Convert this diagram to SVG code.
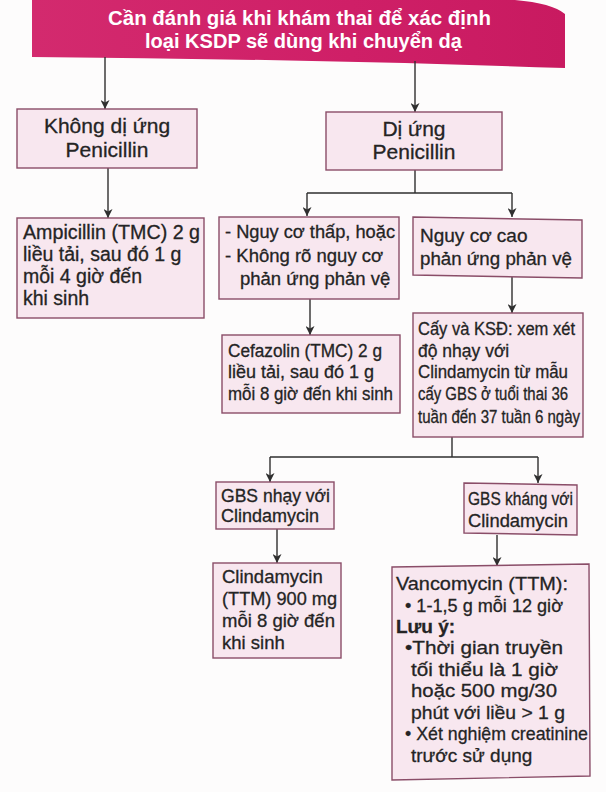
<svg xmlns="http://www.w3.org/2000/svg" width="606" height="792" viewBox="0 0 606 792">
<style>
.bg{fill:#fdfcfc}
.box{fill:#f8e7ef;stroke:#8a4d68;stroke-width:1.4}
.t{font-family:"Liberation Sans",Arial,sans-serif;fill:#242424;stroke:#242424;stroke-width:0.3}
.h{font-family:"Liberation Sans",Arial,sans-serif;fill:#ffffff;font-weight:bold;font-size:20.5px}
.c{stroke:#2f2f2f;stroke-width:1.4;fill:none}
.a{marker-end:url(#arr)}
</style>
<defs>
<marker id="arr" markerUnits="userSpaceOnUse" markerWidth="9" markerHeight="9" refX="4.5" refY="9" orient="0" viewBox="0 0 9 9">
<path d="M0,0 L4.5,2.5 L9,0 L4.5,9 Z" fill="#2f2f2f"/>
</marker>
<linearGradient id="ban" x1="0" y1="0" x2="1" y2="0">
<stop offset="0" stop-color="#d32a6e"/>
<stop offset="0.6" stop-color="#cf1f67"/>
<stop offset="1" stop-color="#c81a60"/>
</linearGradient>
</defs>
<rect class="bg" x="0" y="0" width="606" height="792"/>

<g id="banner">
<path d="M32,0 H515 Q552,3 565,14 L565,68 Q300,59 32,57 Z" fill="url(#ban)"/>
<text class="h" x="299.5" y="25" text-anchor="middle" textLength="383" lengthAdjust="spacingAndGlyphs">Cần đánh giá khi khám thai để xác định</text>
<text class="h" x="303.5" y="48" text-anchor="middle" textLength="317" lengthAdjust="spacingAndGlyphs">loại KSDP sẽ dùng khi chuyển dạ</text>
</g>

<g id="connectors">
<path class="c a" d="M105,57 V109"/>
<path class="c a" d="M415,61 V112"/>
<path class="c a" d="M108,168 V218"/>
<path class="c" d="M415,170 V193 M307,193 H512"/>
<path class="c a" d="M307,193 V216"/>
<path class="c a" d="M512,193 V217"/>
<path class="c a" d="M310,299 V335"/>
<path class="c a" d="M512,277 V313"/>
<path class="c" d="M452,437 V457 M270,457 H538"/>
<path class="c a" d="M270,457 V482"/>
<path class="c a" d="M538,457 V483"/>
<path class="c a" d="M277,529 V563"/>
<path class="c a" d="M497,535 V566"/>
</g>

<g id="khong-di-ung">
<rect class="box" x="17" y="109" width="180" height="59"/>
<text class="t" font-size="21" text-anchor="middle"><tspan x="107" y="133">Không dị ứng</tspan><tspan x="107" y="157">Penicillin</tspan></text>
</g>

<g id="di-ung">
<rect class="box" x="326" y="112" width="176" height="58"/>
<text class="t" font-size="21" text-anchor="middle"><tspan x="414" y="136">Dị ứng</tspan><tspan x="414" y="159">Penicillin</tspan></text>
</g>

<g id="ampicillin">
<rect class="box" x="17" y="218" width="187" height="100"/>
<text class="t" font-size="19.5"><tspan x="23" y="239" textLength="177" lengthAdjust="spacingAndGlyphs">Ampicillin (TMC) 2 g</tspan><tspan x="23" y="261">liều tải, sau đó 1 g</tspan><tspan x="23" y="283">mỗi 4 giờ đến</tspan><tspan x="23" y="305">khi sinh</tspan></text>
</g>

<g id="nguy-co-thap">
<rect class="box" x="219" y="217" width="180" height="82"/>
<text class="t" font-size="18.5"><tspan x="225" y="238" textLength="170" lengthAdjust="spacingAndGlyphs">- Nguy cơ thấp, hoặc</tspan><tspan x="225" y="262">- Không rõ nguy cơ</tspan><tspan x="240" y="285">phản ứng phản vệ</tspan></text>
</g>

<g id="nguy-co-cao">
<path class="box" d="M413,217 L582,220 L582,278 L413,275 Z"/>
<text class="t" font-size="19"><tspan x="420" y="242">Nguy cơ cao</tspan><tspan x="420" y="265" textLength="152" lengthAdjust="spacingAndGlyphs">phản ứng phản vệ</tspan></text>
</g>

<g id="cefazolin">
<rect class="box" x="222" y="335" width="178" height="78"/>
<text class="t" font-size="18"><tspan x="228" y="357" textLength="154" lengthAdjust="spacingAndGlyphs">Cefazolin (TMC) 2 g</tspan><tspan x="228" y="378">liều tải, sau đó 1 g</tspan><tspan x="228" y="400" textLength="165" lengthAdjust="spacingAndGlyphs">mỗi 8 giờ đến khi sinh</tspan></text>
</g>

<g id="cay-ksd">
<rect class="box" x="413" y="313" width="170" height="124"/>
<text class="t" font-size="17.5"><tspan x="418" y="335" textLength="157" lengthAdjust="spacingAndGlyphs">Cấy và KSĐ: xem xét</tspan><tspan x="418" y="357">độ nhạy với</tspan><tspan x="418" y="378" textLength="150" lengthAdjust="spacingAndGlyphs">Clindamycin từ mẫu</tspan><tspan x="418" y="400" textLength="150" lengthAdjust="spacingAndGlyphs">cấy GBS ở tuổi thai 36</tspan><tspan x="418" y="423" textLength="162" lengthAdjust="spacingAndGlyphs">tuần đến 37 tuần 6 ngày</tspan></text>
</g>

<g id="gbs-nhay">
<rect class="box" x="216" y="482" width="118" height="47"/>
<text class="t" font-size="18"><tspan x="221" y="502" textLength="109" lengthAdjust="spacingAndGlyphs">GBS nhạy với</tspan><tspan x="221" y="522">Clindamycin</tspan></text>
</g>

<g id="gbs-khang">
<path class="box" d="M464,483 L577,485 L577,535 L464,533 Z"/>
<text class="t" font-size="18"><tspan x="468" y="505" textLength="105" lengthAdjust="spacingAndGlyphs">GBS kháng với</tspan><tspan x="468" y="527" textLength="100" lengthAdjust="spacingAndGlyphs">Clindamycin</tspan></text>
</g>

<g id="clindamycin">
<rect class="box" x="213" y="563" width="128" height="95"/>
<text class="t" font-size="18.5"><tspan x="222" y="583">Clindamycin</tspan><tspan x="222" y="605" textLength="115" lengthAdjust="spacingAndGlyphs">(TTM) 900 mg</tspan><tspan x="222" y="627">mỗi 8 giờ đến</tspan><tspan x="222" y="649">khi sinh</tspan></text>
</g>

<g id="vancomycin">
<path class="box" d="M392,567 L589,564 L590,776 L392,780 Z"/>
<text class="t" font-size="19">
<tspan x="396" y="590" textLength="172" lengthAdjust="spacingAndGlyphs">Vancomycin (TTM):</tspan>
<tspan x="405" y="612" textLength="158" lengthAdjust="spacingAndGlyphs">• 1-1,5 g mỗi 12 giờ</tspan>
<tspan x="396" y="633" font-weight="bold">Lưu ý:</tspan>
<tspan x="405" y="654" textLength="158" lengthAdjust="spacingAndGlyphs">•Thời gian truyền</tspan>
<tspan x="411" y="676" textLength="147" lengthAdjust="spacingAndGlyphs">tối thiểu là 1 giờ</tspan>
<tspan x="411" y="697" textLength="146" lengthAdjust="spacingAndGlyphs">hoặc 500 mg/30</tspan>
<tspan x="411" y="719" textLength="154" lengthAdjust="spacingAndGlyphs">phút với liều &gt; 1 g</tspan>
<tspan x="405" y="740" textLength="183" lengthAdjust="spacingAndGlyphs">• Xét nghiệm creatinine</tspan>
<tspan x="411" y="762">trước sử dụng</tspan>
</text>
</g>
</svg>
